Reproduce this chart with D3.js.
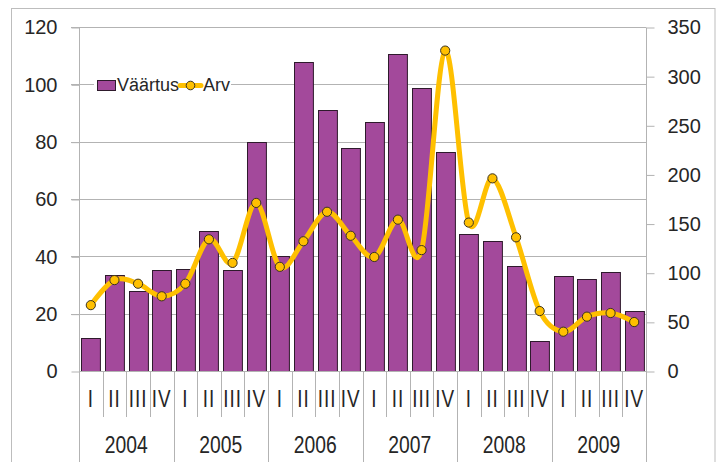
<!DOCTYPE html>
<html>
<head>
<meta charset="utf-8">
<script src="https://cdn.jsdelivr.net/npm/d3@7"></script>
<style>
  html, body { margin: 0; padding: 0; background: #fff; }
  svg { display: block; }
</style>
</head>
<body>
<svg id="chart" width="724" height="462"></svg>
<script>
// Quarterly data, 2004–2009
const years = ["2004", "2005", "2006", "2007", "2008", "2009"];
const quarters = ["I", "II", "III", "IV"];
// Väärtus (left axis)
const vaartus = [11.5, 33.6, 27.8, 35.2, 35.6, 48.9, 35.1, 80, 40.2, 107.9, 91, 77.7,
                 86.9, 110.5, 98.8, 76.5, 47.8, 45.4, 36.7, 10.5, 33, 32, 34.5, 20.9];
// Arv (right axis)
const arv = [67, 92.5, 88.8, 76, 88.8, 134, 110, 171, 106, 132, 162, 137.6,
             116, 154, 123, 326, 151, 196, 136, 61, 40, 55.3, 59, 49.8];
const leftTicks = [0, 20, 40, 60, 80, 100, 120];
const rightTicks = [0, 50, 100, 150, 200, 250, 300, 350];
const seriesNames = ["Väärtus", "Arv"];

const categories = [];
years.forEach(y => quarters.forEach(q => categories.push(y + "-" + q)));

const svg = d3.select("#chart");
const W = 724, H = 462;
const plot = { left: 79, right: 646, top: 27, bottom: 371 };

const barColor = "#a3499b";
const barStroke = "#2e1a2c";
const lineColor = "#ffc000";
const gridColor = "#b3b3b3";
const textColor = "#262626";
const font = "Liberation Sans, Arial, sans-serif";

// outer frame
svg.append("rect")
  .attr("x", 11.5).attr("y", 8.5)
  .attr("width", 715 - 11.5).attr("height", 480)
  .attr("fill", "#fff").attr("stroke", "#bdbdbd").attr("stroke-width", 1);

const x = d3.scaleBand().domain(categories)
  .range([plot.left, plot.right]).paddingInner(0.2).paddingOuter(0.1);
const xStep = (plot.right - plot.left) / categories.length;
const xCenter = i => plot.left + xStep * (i + 0.5);

const yL = d3.scaleLinear().domain([0, 120]).range([plot.bottom, plot.top]);
const yR = d3.scaleLinear().domain([0, 350]).range([plot.bottom, plot.top]);

// gridlines with outer ticks on the left
const grid = svg.append("g");
grid.selectAll("line").data(leftTicks.filter(d => d > 0)).join("line")
  .attr("x1", plot.left - 8).attr("x2", plot.right)
  .attr("y1", d => Math.round(yL(d)) + 0.5).attr("y2", d => Math.round(yL(d)) + 0.5)
  .attr("stroke", gridColor).attr("stroke-width", 1);

// left axis
const leftAxis = d3.axisLeft(yL).tickValues(leftTicks).tickSize(8).tickPadding(14);
const gL = svg.append("g").attr("transform", `translate(${plot.left + 0.5},0.5)`).call(leftAxis);
gL.select(".domain").attr("stroke", gridColor).attr("d", `M0,${plot.top}V${plot.bottom + 46}`);
gL.selectAll(".tick line").attr("stroke", gridColor);
gL.selectAll(".tick text")
  .attr("font-family", font).attr("font-size", 20).attr("fill", textColor);

// right axis
const rightAxis = d3.axisRight(yR).tickValues(rightTicks).tickSize(8).tickPadding(13);
const gR = svg.append("g").attr("transform", `translate(${plot.right + 0.5},0.5)`).call(rightAxis);
gR.select(".domain").attr("stroke", gridColor).attr("d", `M0,${plot.top}V${plot.bottom}`);
gR.selectAll(".tick line").attr("stroke", gridColor);
gR.selectAll(".tick text")
  .attr("font-family", font).attr("font-size", 20).attr("fill", textColor);

// bars
svg.append("g").selectAll("rect").data(vaartus).join("rect")
  .attr("x", (d, i) => Math.round(x(categories[i])) + 0.5)
  .attr("y", d => Math.round(yL(d)) + 0.5)
  .attr("width", x.bandwidth())
  .attr("height", d => plot.bottom - Math.round(yL(d)))
  .attr("fill", barColor).attr("stroke", barStroke).attr("stroke-width", 1);

// category axis baseline and separators
const cat = svg.append("g");
cat.append("line")
  .attr("x1", plot.left).attr("x2", plot.right)
  .attr("y1", plot.bottom + 0.5).attr("y2", plot.bottom + 0.5)
  .attr("stroke", gridColor);
d3.range(categories.length + 1).forEach(i => {
  const xx = Math.round(plot.left + xStep * i) + 0.5;
  cat.append("line")
    .attr("x1", xx).attr("x2", xx)
    .attr("y1", plot.bottom).attr("y2", i % 4 === 0 ? H : plot.bottom + 46)
    .attr("stroke", gridColor);
});

// quarter labels (slightly tall, narrow lettering)
cat.selectAll("text.q").data(categories).join("text")
  .attr("class", "q")
  .attr("transform", (d, i) => `translate(${xCenter(i)},399) scale(0.9,1.1)`)
  .attr("dy", "0.36em")
  .attr("text-anchor", "middle")
  .attr("font-family", font).attr("font-size", 21)
  .attr("letter-spacing", 1)
  .attr("fill", textColor)
  .text(d => d.split("-")[1]);

// year labels
cat.selectAll("text.y").data(years).join("text")
  .attr("class", "y")
  .attr("transform", (d, i) => `translate(${plot.left + xStep * (i * 4 + 2)},445) scale(0.92,1.1)`)
  .attr("dy", "0.36em")
  .attr("text-anchor", "middle")
  .attr("font-family", font).attr("font-size", 21)
  .attr("fill", textColor)
  .text(d => d);

// smoothed line
const line = d3.line()
  .x((d, i) => xCenter(i))
  .y(d => yR(d))
  .curve(d3.curveCardinal.tension(0));
svg.append("path").datum(arv)
  .attr("d", line)
  .attr("fill", "none").attr("stroke", lineColor)
  .attr("stroke-width", 5).attr("stroke-linejoin", "round").attr("stroke-linecap", "round");

svg.append("g").selectAll("circle").data(arv).join("circle")
  .attr("cx", (d, i) => xCenter(i))
  .attr("cy", d => yR(d))
  .attr("r", 4.6)
  .attr("fill", lineColor).attr("stroke", "#3a3220").attr("stroke-width", 1);

// legend
const lg = svg.append("g");
lg.append("rect").attr("x", 94).attr("y", 74).attr("width", 137).attr("height", 22).attr("fill", "#fff");
lg.append("rect").attr("x", 97.5).attr("y", 80.5).attr("width", 18).attr("height", 10)
  .attr("fill", barColor).attr("stroke", barStroke);
lg.append("text").attr("x", 117).attr("y", 91)
  .attr("font-family", font).attr("font-size", 18).attr("fill", textColor)
  .text(seriesNames[0]);
lg.append("line").attr("x1", 180).attr("x2", 201).attr("y1", 85.5).attr("y2", 85.5)
  .attr("stroke", lineColor).attr("stroke-width", 5).attr("stroke-linecap", "round");
lg.append("circle").attr("cx", 190.5).attr("cy", 85.5).attr("r", 4.3)
  .attr("fill", lineColor).attr("stroke", "#3a3220");
lg.append("text").attr("x", 203).attr("y", 91)
  .attr("font-family", font).attr("font-size", 18).attr("fill", textColor)
  .text(seriesNames[1]);
</script>
</body>
</html>
